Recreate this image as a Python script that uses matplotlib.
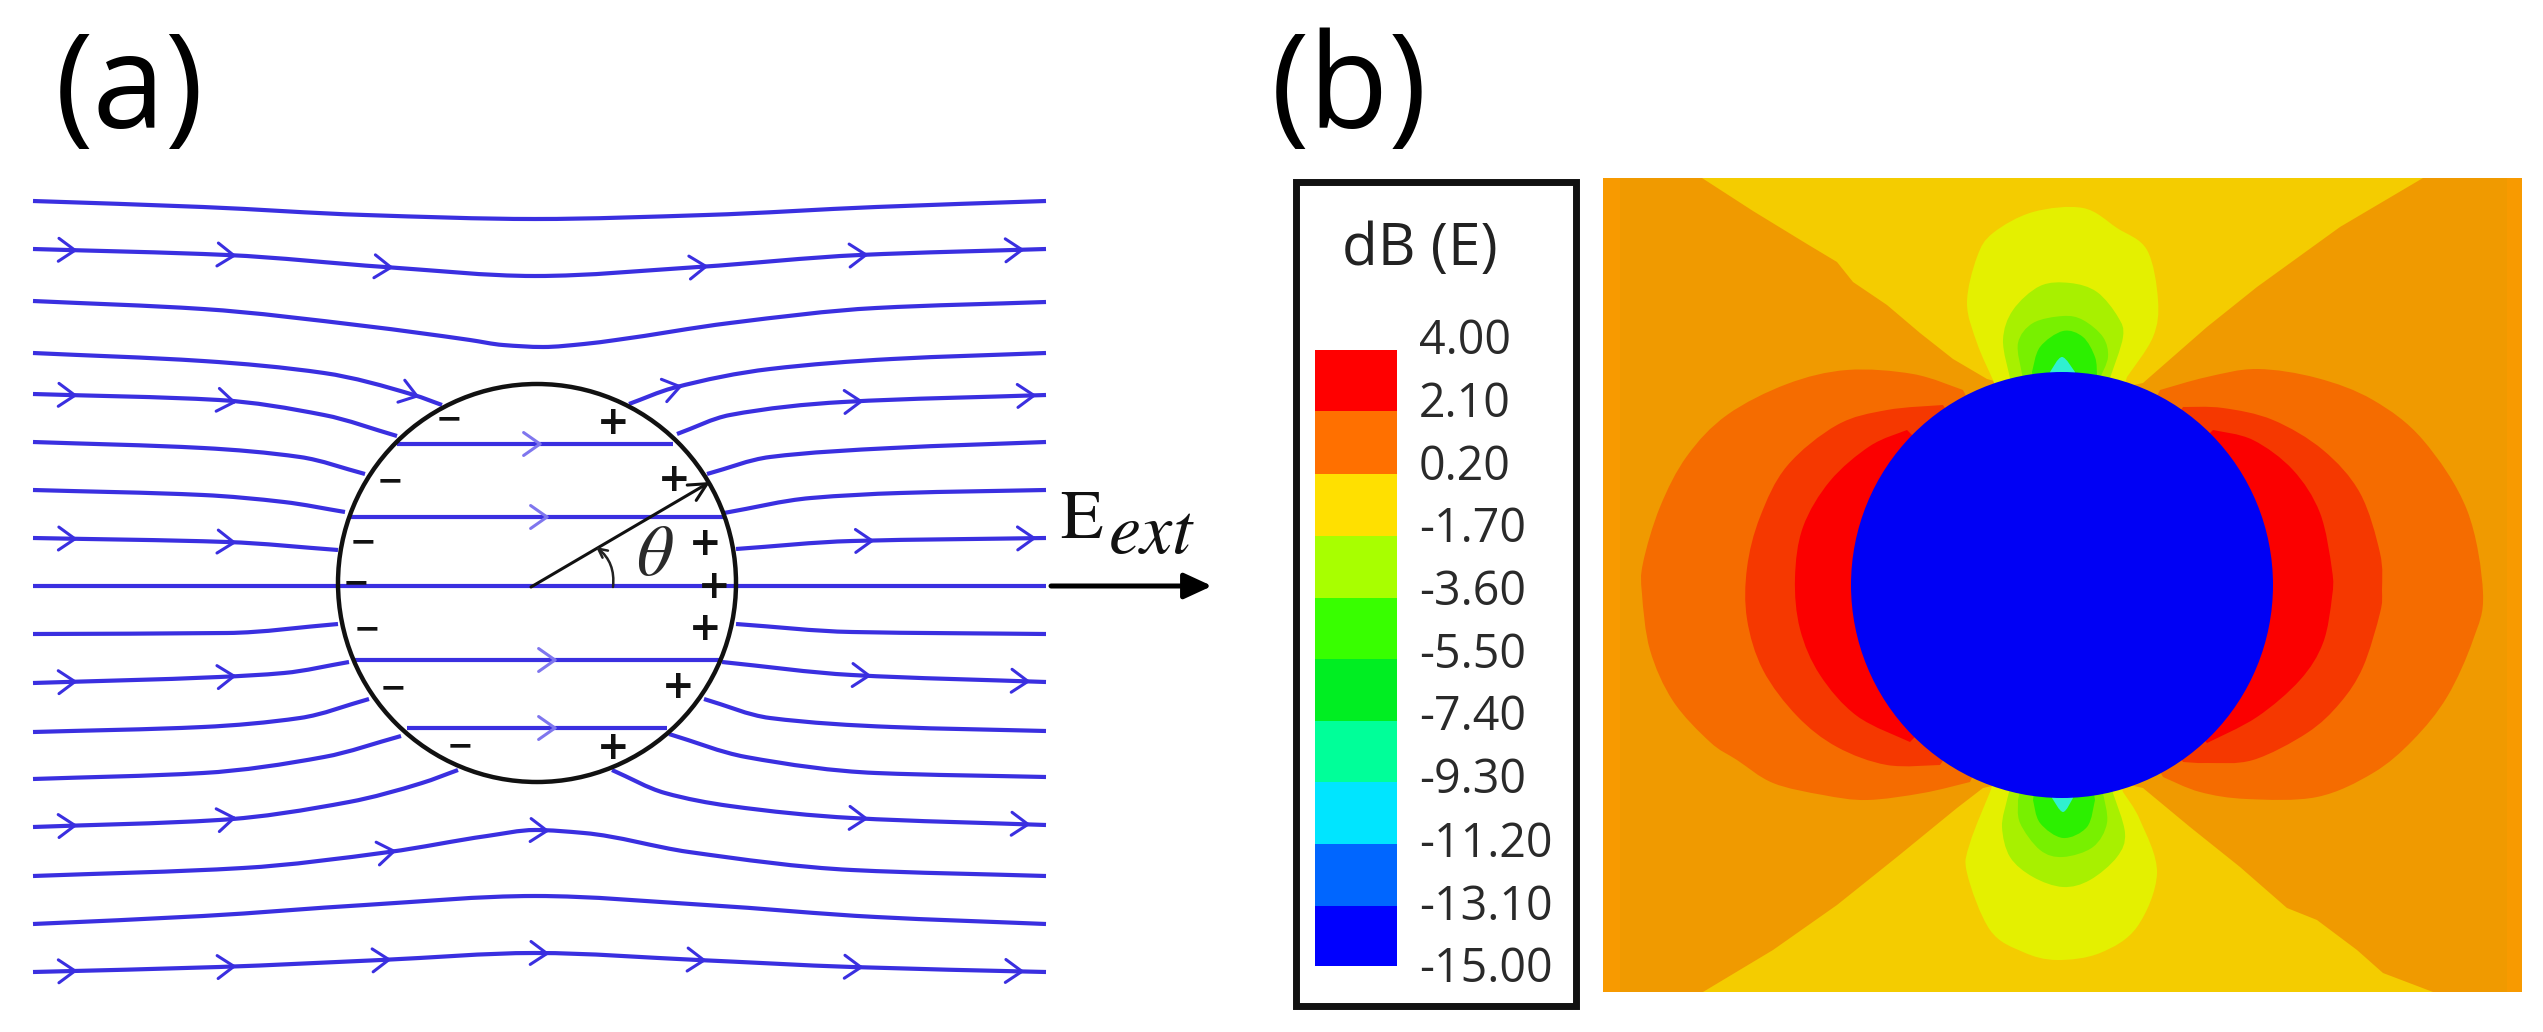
import numpy as np
from matplotlib import pyplot as plt
from matplotlib.path import Path
from matplotlib.patches import PathPatch, Circle, Ellipse, Rectangle

plt.rcParams['font.family'] = ['Open Sans', 'DejaVu Sans']
plt.rcParams['mathtext.fontset'] = 'stix'

LINE_BLUE = '#3a2fe0'
PALE_BLUE = '#7f76ee'

# field lines of panel (a) in image pixels: (x list, y list)
field_lines = [
    ([33, 203, 365, 535, 706, 876, 1046], [201, 207, 215, 219, 215, 207, 201]),
    ([33, 227, 385, 535, 698, 860, 1046], [249, 255, 267, 276, 267, 255, 249]),
    ([33, 203, 365, 470, 503, 543, 584, 616, 730, 876, 1046], [301, 309, 326, 340, 345, 347, 344, 340, 323, 308, 302]),
    ([33, 203, 324, 414, 442], [353, 361, 373, 395, 405]),
    ([629, 673, 770, 892, 1046], [404, 388, 369, 359, 353]),
    ([33, 219, 324, 397], [394, 400, 415, 436]),
    ([677, 730, 843, 1046], [434, 415, 402, 395]),
    ([33, 203, 300, 365], [442, 448, 457, 474]),
    ([397, 673], [444, 444]),
    ([707, 770, 892, 1046], [474, 457, 448, 442]),
    ([33, 203, 284, 345], [490, 495, 502, 512]),
    ([349, 724], [517, 517]),
    ([724, 811, 900, 1046], [513, 498, 493, 490]),
    ([33, 227, 338], [538, 542, 550]),
    ([736, 852, 1046], [549, 541, 538]),
    ([33, 1046], [586, 586]),
    ([33, 227, 338], [634, 633, 624]),
    ([736, 852, 1046], [624, 632, 634]),
    ([33, 219, 284, 349], [683, 677, 673, 662]),
    ([355, 722], [660, 660]),
    ([722, 852, 1046], [662, 675, 682]),
    ([33, 203, 300, 369], [732, 727, 718, 699]),
    ([407, 667], [728, 728]),
    ([704, 770, 892, 1046], [699, 718, 727, 731]),
    ([33, 203, 324, 401], [779, 773, 757, 736]),
    ([669, 746, 876, 1046], [734, 757, 773, 777]),
    ([33, 219, 349, 422, 458], [827, 820, 802, 783, 770]),
    ([612, 665, 730, 852, 1046], [770, 793, 806, 818, 825]),
    ([33, 243, 389, 487, 535, 584, 689, 852, 1046], [876, 868, 852, 836, 830, 833, 852, 870, 876]),
    ([33, 203, 365, 535, 706, 876, 1046], [924, 916, 905, 896, 905, 917, 924]),
    ([33, 219, 381, 535, 698, 852, 1046], [972, 967, 960, 953, 960, 967, 972]),
]

# x of the arrow tips on each line (index in field_lines -> tips)
arrow_tips = {
    1: [75, 234, 391, 706, 866, 1022],
    3: [417],
    4: [680],
    5: [75, 234],
    6: [861, 1034],
    13: [75, 234],
    14: [872, 1034],
    18: [75, 234],
    20: [869, 1028],
    26: [75, 234],
    27: [866, 1028],
    28: [394, 547],
    30: [75, 234, 389, 547, 704, 861, 1022],
}
inner_arrow_tips = {8: [540], 11: [547], 19: [555], 22: [555]}

plus_x = [613, 674, 705, 714, 705, 678, 613]
plus_y = [423, 480, 544, 587, 629, 687, 748]
minus_x = [449, 390, 363, 356, 367, 393, 460]
minus_y = [420, 482, 543, 584, 630, 689, 747]

# colour scale of panel (b)
level_labels = ['4.00', '2.10', '0.20', '-1.70', '-3.60', '-5.50', '-7.40', '-9.30', '-11.20', '-13.10', '-15.00']
level_label_y = [341, 404, 467, 529, 592, 655, 717, 780, 844, 907, 969]
band_edges = [350, 411, 474, 536, 598, 659, 721, 782, 844, 906, 966]
band_colors = ['#ff0000', '#ff7000', '#ffe000', '#a8ff00', '#38ff00', '#00ee22',
               '#00ff99', '#00e5ff', '#0066ff', '#0000ff']

# contour regions of panel (b), outlines
bg_orange = '#f09a00'
edge_orange = '#f89a00'
wedge_yellow = '#f4cc00'
wedge_top_x = [1702, 1753, 1807, 1837, 1853, 1887, 1920, 1953, 1987, 2062, 2143, 2207, 2257, 2340, 2423]
wedge_top_y = [178, 211, 244, 262, 282, 305, 333, 359, 379, 400, 383, 327, 287, 227, 178]
wedge_bot_x = [1703, 1773, 1837, 1897, 1957, 1983, 2062, 2143, 2190, 2240, 2287, 2317, 2357, 2383, 2433]
wedge_bot_y = [992, 950, 905, 857, 808, 788, 770, 788, 827, 867, 908, 920, 950, 973, 992]

lobe_outer_color = '#f56c00'
lobe_mid_color = '#f53800'
lobe_in_color = '#fb0000'
lobe_left_outer_x = [1963, 1913, 1847, 1787, 1727, 1687, 1660, 1643, 1642, 1650, 1673, 1710, 1737, 1773, 1823, 1867, 1923, 1970]
lobe_left_outer_y = [390, 374, 370, 384, 415, 456, 507, 563, 594, 650, 701, 742, 760, 783, 795, 800, 793, 782]
lobe_left_mid_x = [1943, 1887, 1837, 1787, 1760, 1747, 1747, 1763, 1797, 1837, 1887, 1940]
lobe_left_mid_y = [405, 410, 425, 466, 517, 568, 619, 670, 716, 747, 765, 765]
lobe_left_in_x = [1907, 1870, 1830, 1803, 1795, 1800, 1820, 1857, 1910]
lobe_left_in_y = [430, 446, 481, 527, 578, 629, 675, 716, 742]

lobe_right_outer_x = [2160, 2207, 2257, 2317, 2373, 2423, 2467, 2483, 2473, 2447, 2413, 2373, 2317, 2247, 2200, 2163]
lobe_right_outer_y = [390, 377, 369, 378, 400, 440, 510, 593, 640, 697, 740, 773, 797, 799, 792, 777]
lobe_right_mid_x = [2183, 2223, 2273, 2323, 2360, 2380, 2382, 2380, 2363, 2340, 2307, 2253, 2207, 2183]
lobe_right_mid_y = [407, 408, 420, 450, 493, 553, 590, 613, 667, 703, 733, 760, 763, 762]
lobe_right_in_x = [2213, 2253, 2293, 2320, 2332, 2332, 2323, 2300, 2257, 2207]
lobe_right_in_y = [430, 440, 470, 513, 570, 597, 643, 680, 717, 743]

# blobs above the sphere, outer to inner, and the same below it
blob_colors = ['#e4f000', '#a8f000', '#78f000', '#2cf000', '#30f0d0']
blobs_top = [
    ([1993, 1977, 1967, 1977, 1993, 2033, 2083, 2117, 2147, 2158, 2153, 2127],
     [380, 343, 303, 257, 233, 212, 208, 228, 250, 300, 337, 377]),
    ([2010, 2003, 2013, 2040, 2070, 2097, 2118, 2123, 2110],
     [378, 340, 310, 286, 283, 292, 317, 337, 378]),
    ([2022, 2018, 2033, 2063, 2083, 2103, 2108, 2100],
     [374, 343, 323, 316, 320, 337, 357, 378]),
    ([2032, 2040, 2063, 2083, 2095, 2097], [372, 347, 331, 337, 357, 375]),
    ([2050, 2062, 2075], [372, 357, 372]),
]
blobs_bot = [
    ([1990, 1970, 1967, 1990, 2023, 2057, 2100, 2137, 2157, 2140, 2123],
     [792, 843, 873, 930, 952, 960, 953, 927, 873, 820, 792]),
    ([2007, 2002, 2010, 2033, 2063, 2090, 2117, 2125, 2113],
     [800, 827, 857, 877, 887, 880, 857, 833, 793]),
    ([2018, 2020, 2040, 2063, 2093, 2107, 2103],
     [800, 823, 850, 857, 847, 823, 793]),
    ([2033, 2040, 2063, 2087, 2095], [800, 823, 838, 827, 800]),
    ([2052, 2063, 2073], [798, 812, 798]),
]


def line_path(xs, ys):
    # shape-preserving cubic through the read points (x always increases)
    xs = np.array(xs, float)
    ys = np.array(ys, float)
    h = np.diff(xs)
    s = np.diff(ys) / h
    d = np.zeros(len(xs))
    d[0], d[-1] = s[0], s[-1]
    for i in range(1, len(xs) - 1):
        if s[i - 1] * s[i] > 0:
            w1 = 2 * h[i] + h[i - 1]
            w2 = h[i] + 2 * h[i - 1]
            d[i] = (w1 + w2) / (w1 / s[i - 1] + w2 / s[i])
    verts = [(xs[0], ys[0])]
    codes = [Path.MOVETO]
    for i in range(len(xs) - 1):
        verts += [(xs[i] + h[i] / 3, ys[i] + d[i] * h[i] / 3),
                  (xs[i + 1] - h[i] / 3, ys[i + 1] - d[i + 1] * h[i] / 3),
                  (xs[i + 1], ys[i + 1])]
        codes += [Path.CURVE4] * 3
    return Path(verts, codes)


def region_path(xs, ys, center=(2062, 585)):
    # catmull-rom outline, closed under the sphere through its centre
    pts = np.column_stack([xs, ys]).astype(float)
    verts = [pts[0]]
    codes = [Path.MOVETO]
    for i in range(len(pts) - 1):
        p0 = pts[max(i - 1, 0)]
        p1 = pts[i]
        p2 = pts[i + 1]
        p3 = pts[min(i + 2, len(pts) - 1)]
        verts += [p1 + (p2 - p0) / 6, p2 - (p3 - p1) / 6, p2]
        codes += [Path.CURVE4] * 3
    verts += [center, pts[0]]
    codes += [Path.LINETO, Path.CLOSEPOLY]
    return Path(verts, codes)


def chevron(ax, line, tip_x, color):
    xs, ys = line
    tip_y = np.interp(tip_x, xs, ys)
    slope = (np.interp(tip_x + 15, xs, ys) - np.interp(tip_x - 15, xs, ys)) / 30
    ang = np.arctan(slope)
    for side in (-1, 1):
        a = ang + side * np.radians(35)
        ax.plot([tip_x - 20 * np.cos(a), tip_x], [tip_y - 20 * np.sin(a), tip_y],
                color=color, lw=2.2, solid_capstyle='round', zorder=3)


fig = plt.figure(figsize=(25.43, 10.32), dpi=100)
ax = fig.add_axes([0, 0, 1, 1])
ax.set_xlim(0, 2543)
ax.set_ylim(1032, 0)
ax.axis('off')

# panel (a)
for xs, ys in field_lines:
    ax.add_patch(PathPatch(line_path(xs, ys), fill=False, ec=LINE_BLUE, lw=3, zorder=2))
for i, tips in arrow_tips.items():
    for t in tips:
        chevron(ax, field_lines[i], t, LINE_BLUE)
for i, tips in inner_arrow_tips.items():
    for t in tips:
        chevron(ax, field_lines[i], t, PALE_BLUE)

ax.add_patch(Circle((537, 583), 199, fill=False, ec='#111111', lw=3.2, zorder=4))

ax.annotate('', xy=(710, 482), xytext=(531, 587),
            arrowprops=dict(arrowstyle='->', color='#111111', lw=2.2, mutation_scale=32,
                            shrinkA=0, shrinkB=0), zorder=5)
ax.annotate('', xy=(596, 547), xytext=(613, 587),
            arrowprops=dict(arrowstyle='->', color='#222222', lw=1.8, mutation_scale=16,
                            connectionstyle='arc3,rad=0.28', shrinkA=0, shrinkB=0), zorder=5)
ax.text(655, 556, r'$\theta$', fontsize=52, ha='center', va='center', color='#2a2a2a', zorder=5)

for x, y in zip(plus_x, plus_y):
    ax.text(x, y, '+', fontsize=28, fontweight='bold', ha='center', va='center',
            family='DejaVu Sans', color='#111111', zorder=5)
for x, y in zip(minus_x, minus_y):
    ax.text(x, y, '\u2212', fontsize=23, fontweight='bold', ha='center', va='center',
            family='DejaVu Sans', color='#111111', zorder=5)

ax.text(1060, 538, 'E', fontsize=50, family='STIXGeneral', ha='left', va='baseline', color='#111111')
ax.text(1109, 553, 'ext', fontsize=52, family='STIXGeneral', style='italic', ha='left', va='baseline', color='#111111')
ax.annotate('', xy=(1212, 586), xytext=(1051, 586),
            arrowprops=dict(arrowstyle='-|>,head_length=0.65,head_width=0.3', color='black', lw=3.6,
                            mutation_scale=26, shrinkA=0, shrinkB=0))

ax.text(130, 94, '(a)', fontsize=94, ha='center', va='center', color='black')
ax.text(1349, 94, '(b)', fontsize=94, ha='center', va='center', color='black')

# legend box
ax.add_patch(Rectangle((1295.5, 181.5), 280, 824, fill=False, ec='#111111', lw=5))
ax.text(1420, 250, 'dB (E)', fontsize=42, ha='center', va='center', color='#222222')
edges = np.array(band_edges)
ax.bar([1356] * len(band_colors), np.diff(edges), width=82, bottom=edges[:-1], color=band_colors)
for lab, y in zip(level_labels, level_label_y):
    ax.text(1419, y, lab, fontsize=33.5, ha='left', va='center', color='#2a2a2a')

# panel (b)
ax.add_patch(Rectangle((1603, 178), 919, 814, fc=bg_orange, ec='none', zorder=1))
ax.add_patch(Rectangle((1603, 178), 17, 814, fc=edge_orange, ec='none', zorder=1))
ax.add_patch(Rectangle((2507, 178), 15, 814, fc=edge_orange, ec='none', zorder=1))
ax.fill(wedge_top_x, wedge_top_y, color=wedge_yellow, lw=0, zorder=2)
ax.fill(wedge_bot_x, wedge_bot_y, color=wedge_yellow, lw=0, zorder=2)

for xs, ys, c, z in [(lobe_left_outer_x, lobe_left_outer_y, lobe_outer_color, 3),
                     (lobe_left_mid_x, lobe_left_mid_y, lobe_mid_color, 4),
                     (lobe_left_in_x, lobe_left_in_y, lobe_in_color, 5),
                     (lobe_right_outer_x, lobe_right_outer_y, lobe_outer_color, 3),
                     (lobe_right_mid_x, lobe_right_mid_y, lobe_mid_color, 4),
                     (lobe_right_in_x, lobe_right_in_y, lobe_in_color, 5)]:
    ax.add_patch(PathPatch(region_path(xs, ys), fc=c, ec='none', zorder=z))

for blobs in (blobs_top, blobs_bot):
    for (xs, ys), c in zip(blobs, blob_colors):
        ax.add_patch(PathPatch(region_path(xs, ys), fc=c, ec='none', zorder=3))

ax.add_patch(Ellipse((2062, 585), 422, 426, fc='#0000f5', ec='none', zorder=6))

plt.savefig('out.png', dpi=100)
